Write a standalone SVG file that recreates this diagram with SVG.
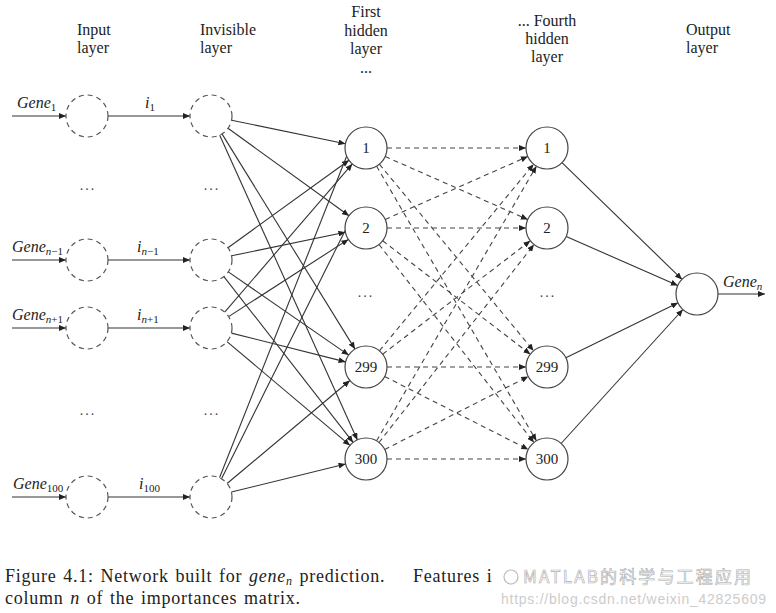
<svg xmlns="http://www.w3.org/2000/svg" width="776" height="613" viewBox="0 0 776 613">
<style>
.t{font-family:"Liberation Serif","DejaVu Serif",serif;font-size:16px;fill:#222}
.it{font-style:italic}
.num{font-family:"Liberation Serif","DejaVu Serif",serif;font-size:15px;fill:#222;text-anchor:middle}
.dots{font-family:"Liberation Serif",serif;font-size:14px;fill:#444;text-anchor:middle;letter-spacing:2px}
.dc{fill:#fff;stroke:#555;stroke-width:1.2;stroke-dasharray:5 4}
.sc{fill:#fff;stroke:#444;stroke-width:1.2}
.e{stroke:#333;stroke-width:1.1;fill:none;marker-end:url(#ah)}
.d{stroke:#444;stroke-width:1.1;fill:none;stroke-dasharray:5 4;marker-end:url(#ah)}
.cap{font-family:"Liberation Serif","DejaVu Serif",serif;font-size:18px;fill:#222;letter-spacing:0.75px;word-spacing:1.5px}
</style>
<defs>
<marker id="ah" markerUnits="userSpaceOnUse" markerWidth="8" markerHeight="6" refX="7" refY="3" orient="auto">
<path d="M0,0 L7,3 L0,6 Z" fill="#222"/>
</marker>
</defs>
<rect width="776" height="613" fill="#fff"/>

<g id="headers">
<text class="t" x="77" y="35">Input</text>
<text class="t" x="77" y="53">layer</text>
<text class="t" x="200" y="35">Invisible</text>
<text class="t" x="200" y="53">layer</text>
<text class="t" x="366" y="17" text-anchor="middle">First</text>
<text class="t" x="366" y="36" text-anchor="middle">hidden</text>
<text class="t" x="366" y="54" text-anchor="middle">layer</text>
<text class="t" x="366" y="73" text-anchor="middle">...</text>
<text class="t" x="547" y="26" text-anchor="middle">... Fourth</text>
<text class="t" x="547" y="44" text-anchor="middle">hidden</text>
<text class="t" x="547" y="62" text-anchor="middle">layer</text>
<text class="t" x="686" y="35">Output</text>
<text class="t" x="686" y="53">layer</text>
</g>

<g id="connectors">
<line class="e" x1="12" y1="116" x2="66" y2="116"/>
<line class="e" x1="12" y1="260" x2="66" y2="260"/>
<line class="e" x1="12" y1="328" x2="66" y2="328"/>
<line class="e" x1="12" y1="497" x2="66" y2="497"/>
<line class="e" x1="108" y1="116" x2="190" y2="116"/>
<line class="e" x1="108" y1="260" x2="190" y2="260"/>
<line class="e" x1="108" y1="328" x2="190" y2="328"/>
<line class="e" x1="108" y1="497" x2="190" y2="497"/>
<line class="e" x1="231.6" y1="120.2" x2="345.4" y2="143.8"/>
<line class="e" x1="228.0" y1="128.3" x2="349.0" y2="215.7"/>
<line class="e" x1="222.0" y1="133.9" x2="355.0" y2="349.1"/>
<line class="e" x1="219.6" y1="135.1" x2="357.4" y2="439.9"/>
<line class="e" x1="228.0" y1="247.7" x2="349.0" y2="160.3"/>
<line class="e" x1="231.6" y1="255.8" x2="345.4" y2="232.2"/>
<line class="e" x1="228.3" y1="271.9" x2="348.7" y2="355.1"/>
<line class="e" x1="223.9" y1="276.6" x2="353.1" y2="442.4"/>
<line class="e" x1="224.7" y1="312.1" x2="352.3" y2="163.9"/>
<line class="e" x1="228.6" y1="316.6" x2="348.4" y2="239.4"/>
<line class="e" x1="231.4" y1="333.1" x2="345.6" y2="361.9"/>
<line class="e" x1="227.0" y1="341.6" x2="350.0" y2="445.4"/>
<line class="e" x1="219.5" y1="477.8" x2="357.5" y2="128.8"/>
<line class="e" x1="221.5" y1="478.8" x2="355.5" y2="209.8"/>
<line class="e" x1="227.1" y1="483.5" x2="349.9" y2="380.5"/>
<line class="e" x1="231.4" y1="492.0" x2="345.6" y2="464.0"/>
<line class="d" x1="387" y1="148" x2="526" y2="148"/>
<line class="d" x1="385.2" y1="156.5" x2="527.8" y2="219.5"/>
<line class="d" x1="379.4" y1="164.2" x2="533.6" y2="350.8"/>
<line class="d" x1="376.6" y1="166.2" x2="536.4" y2="440.8"/>
<line class="d" x1="385.2" y1="219.5" x2="527.8" y2="156.5"/>
<line class="d" x1="387" y1="228" x2="526" y2="228"/>
<line class="d" x1="382.7" y1="240.8" x2="530.3" y2="354.2"/>
<line class="d" x1="379.0" y1="244.5" x2="534.0" y2="442.5"/>
<line class="d" x1="379.4" y1="350.8" x2="533.6" y2="164.2"/>
<line class="d" x1="382.7" y1="354.2" x2="530.3" y2="240.8"/>
<line class="d" x1="387" y1="367" x2="526" y2="367"/>
<line class="d" x1="384.7" y1="376.5" x2="528.3" y2="449.5"/>
<line class="d" x1="376.6" y1="440.8" x2="536.4" y2="166.2"/>
<line class="d" x1="379.0" y1="442.5" x2="534.0" y2="244.5"/>
<line class="d" x1="384.7" y1="449.5" x2="528.3" y2="376.5"/>
<line class="d" x1="387" y1="459" x2="526" y2="459"/>
<line class="e" x1="562.0" y1="162.6" x2="682.0" y2="279.4"/>
<line class="e" x1="566.2" y1="236.5" x2="677.8" y2="285.5"/>
<line class="e" x1="565.9" y1="357.8" x2="678.1" y2="302.8"/>
<line class="e" x1="561.1" y1="443.5" x2="682.9" y2="309.5"/>
<line class="e" x1="718" y1="294" x2="765" y2="294"/>
</g>

<g id="edge-labels">
<text class="t it" x="17" y="108">Gene<tspan font-size="11" dy="3" font-style="normal">1</tspan></text>
<text class="t it" x="12" y="252">Gene<tspan font-size="11" dy="3">n</tspan><tspan font-size="11" font-style="normal">−1</tspan></text>
<text class="t it" x="12" y="320">Gene<tspan font-size="11" dy="3">n</tspan><tspan font-size="11" font-style="normal">+1</tspan></text>
<text class="t it" x="13" y="489">Gene<tspan font-size="11" dy="3" font-style="normal">100</tspan></text>
<text class="t it" x="145" y="108">i<tspan font-size="11" dy="3" font-style="normal">1</tspan></text>
<text class="t it" x="137" y="252">i<tspan font-size="11" dy="3">n</tspan><tspan font-size="11" font-style="normal">−1</tspan></text>
<text class="t it" x="137" y="320">i<tspan font-size="11" dy="3">n</tspan><tspan font-size="11" font-style="normal">+1</tspan></text>
<text class="t it" x="139" y="489">i<tspan font-size="11" dy="3" font-style="normal">100</tspan></text>
<text class="t it" x="723" y="287">Gene<tspan font-size="11" dy="3">n</tspan></text>
</g>

<g id="input-1"><circle class="dc" cx="87" cy="116" r="21"/></g>
<g id="input-n-1"><circle class="dc" cx="87" cy="260" r="21"/></g>
<g id="input-n+1"><circle class="dc" cx="87" cy="328" r="21"/></g>
<g id="input-100"><circle class="dc" cx="87" cy="497" r="21"/></g>
<g id="invisible-1"><circle class="dc" cx="211" cy="116" r="21"/></g>
<g id="invisible-n-1"><circle class="dc" cx="211" cy="260" r="21"/></g>
<g id="invisible-n+1"><circle class="dc" cx="211" cy="328" r="21"/></g>
<g id="invisible-100"><circle class="dc" cx="211" cy="497" r="21"/></g>

<g id="h1-1"><circle class="sc" cx="366" cy="148" r="21"/><text class="num" x="366" y="153">1</text></g>
<g id="h1-2"><circle class="sc" cx="366" cy="228" r="21"/><text class="num" x="366" y="233">2</text></g>
<g id="h1-299"><circle class="sc" cx="366" cy="367" r="21"/><text class="num" x="366" y="372">299</text></g>
<g id="h1-300"><circle class="sc" cx="366" cy="459" r="21"/><text class="num" x="366" y="464">300</text></g>
<g id="h4-1"><circle class="sc" cx="547" cy="148" r="21"/><text class="num" x="547" y="153">1</text></g>
<g id="h4-2"><circle class="sc" cx="547" cy="228" r="21"/><text class="num" x="547" y="233">2</text></g>
<g id="h4-299"><circle class="sc" cx="547" cy="367" r="21"/><text class="num" x="547" y="372">299</text></g>
<g id="h4-300"><circle class="sc" cx="547" cy="459" r="21"/><text class="num" x="547" y="464">300</text></g>
<g id="output"><circle class="sc" cx="697" cy="294" r="21"/></g>

<g id="ellipses">
<text class="dots" x="88" y="190">...</text>
<text class="dots" x="212" y="190">...</text>
<text class="dots" x="88" y="415">...</text>
<text class="dots" x="212" y="415">...</text>
<text class="dots" x="366" y="297">...</text>
<text class="dots" x="548" y="297">...</text>
</g>

<g id="caption">
<text class="cap" x="5" y="582">Figure 4.1:  Network built for <tspan font-style="italic">gene</tspan><tspan font-style="italic" font-size="12" dy="3">n</tspan><tspan dy="-3"> prediction.</tspan></text>
<text class="cap" x="413" y="582">Features i</text>
<text class="cap" x="5" y="604">column <tspan font-style="italic">n</tspan> of the importances matrix.</text>
</g>

<g id="watermark">
<circle cx="511" cy="577" r="7" fill="none" stroke="#bbb" stroke-width="1.2"/>
<text x="523" y="583" font-family="'Noto Sans CJK SC','Noto Sans',sans-serif" font-size="17" fill="#fff" stroke="#aaa" stroke-width="0.6" textLength="228">MATLAB的科学与工程应用</text>
<text x="501" y="604" font-family="'Liberation Sans',sans-serif" font-size="14" fill="#ccc" textLength="265">https://blog.csdn.net/weixin_42825609</text>
</g>
</svg>
